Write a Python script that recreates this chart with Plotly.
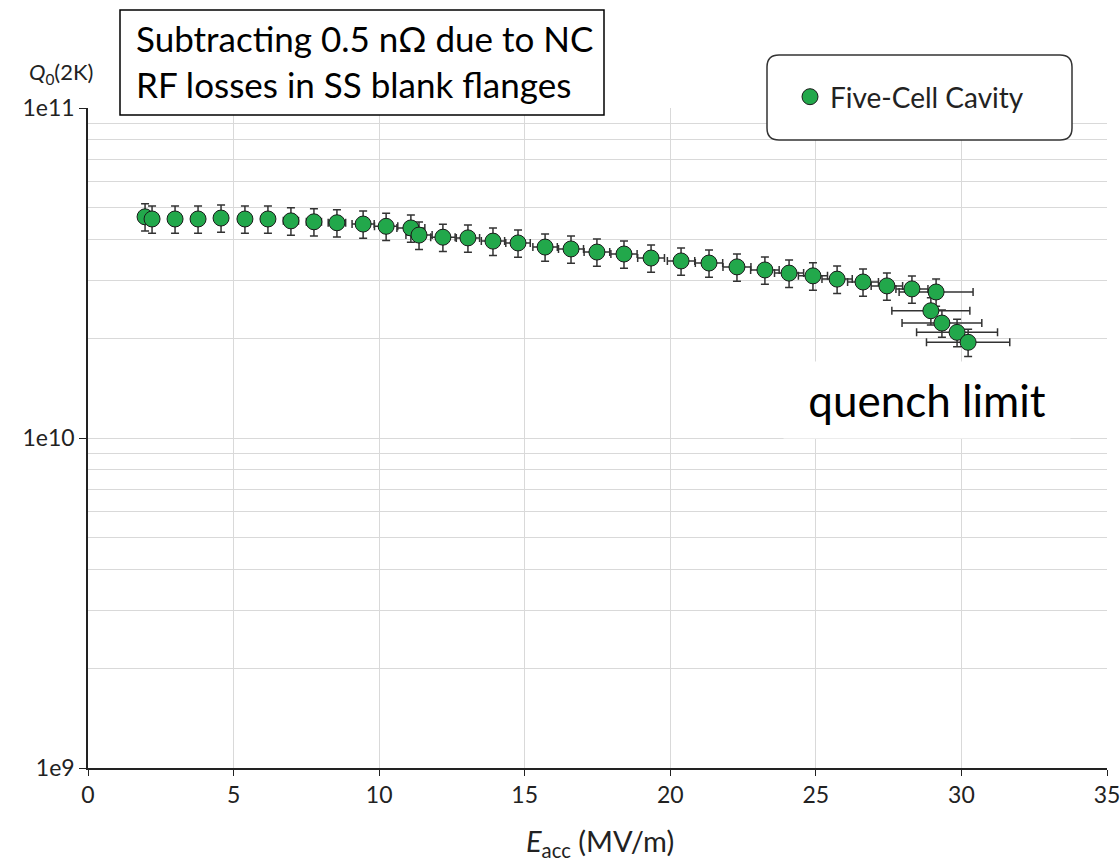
import plotly.graph_objects as go

# ---- data ----
e_acc = [1.96, 2.20, 2.99, 3.78, 4.57, 5.39, 6.18, 6.97, 7.76, 8.55, 9.45, 10.24,
         11.09, 11.37, 12.19, 13.05, 13.91, 14.77, 15.70, 16.59, 17.48, 18.41,
         19.34, 20.37, 21.33, 22.29, 23.25, 24.08, 24.90, 25.73, 26.62, 27.44,
         28.30, 29.13, 28.95, 29.33, 29.85, 30.23]
q0 = [4.68e10, 4.61e10, 4.61e10, 4.61e10, 4.64e10, 4.61e10, 4.61e10, 4.55e10,
      4.52e10, 4.49e10, 4.45e10, 4.38e10, 4.33e10, 4.12e10, 4.06e10, 4.04e10,
      3.95e10, 3.90e10, 3.79e10, 3.74e10, 3.66e10, 3.61e10, 3.51e10, 3.44e10,
      3.39e10, 3.30e10, 3.23e10, 3.16e10, 3.10e10, 3.03e10, 2.97e10, 2.89e10,
      2.83e10, 2.77e10, 2.43e10, 2.23e10, 2.09e10, 1.95e10]
e_err = [0.05, 0.05, 0.06, 0.08, 0.10, 0.12, 0.19, 0.26, 0.26, 0.30, 0.38, 0.40,
         0.48, 0.45, 0.42, 0.40, 0.40, 0.42, 0.42, 0.43, 0.44, 0.45, 0.46, 0.47,
         0.47, 0.48, 0.49, 0.50, 0.50, 0.52, 0.53, 0.54, 0.55, 1.27, 1.34, 1.37,
         1.39, 1.43]
q0_err_percent = 9.5

series_name = "Five-Cell Cavity"
x_ticks = [0, 5, 10, 15, 20, 25, 30, 35]
y_ticks = [1e9, 1e10, 1e11]
y_tick_labels = ["1e9", "1e10", "1e11"]
y_minor = [2e9, 3e9, 4e9, 5e9, 6e9, 7e9, 8e9, 9e9,
           2e10, 3e10, 4e10, 5e10, 6e10, 7e10, 8e10, 9e10]

FONT = "Lato, 'Open Sans', sans-serif"
GRID = "#d9d9d9"

# geometry (pixels) of the plot area
W, H = 1120, 864
L, R, T, B = 88, 13, 108, 96
PW, PH = W - L - R, H - T - B


def px(xp):
    return (xp - L) / PW


def py(yp):
    return (H - B - yp) / PH


fig = go.Figure()
fig.add_trace(go.Scatter(
    x=e_acc, y=q0, mode="markers", name=series_name,
    marker=dict(size=16, color="#22A84B", line=dict(color="#1a1a1a", width=1)),
    error_y=dict(type="percent", value=q0_err_percent, color="#333333",
                 thickness=1.5, width=4),
    error_x=dict(type="data", array=e_err, color="#333333",
                 thickness=1.5, width=4),
))

# rounded legend frame
x0, x1, y0, y1, r = 767, 1072, 55, 140, 12
path = (f"M {px(x0 + r)} {py(y0)} L {px(x1 - r)} {py(y0)} "
        f"Q {px(x1)} {py(y0)} {px(x1)} {py(y0 + r)} L {px(x1)} {py(y1 - r)} "
        f"Q {px(x1)} {py(y1)} {px(x1 - r)} {py(y1)} L {px(x0 + r)} {py(y1)} "
        f"Q {px(x0)} {py(y1)} {px(x0)} {py(y1 - r)} L {px(x0)} {py(y0 + r)} "
        f"Q {px(x0)} {py(y0)} {px(x0 + r)} {py(y0)} Z")

shapes = [
    dict(type="path", xref="paper", yref="paper", path=path,
         fillcolor="white", line=dict(color="#333333", width=1.5), layer="above"),
    dict(type="rect", xref="paper", yref="paper",
         x0=px(120), x1=px(604), y0=py(115), y1=py(10),
         fillcolor="white", line=dict(color="black", width=1.5), layer="above"),
]

annotations = [
    dict(xref="paper", yref="paper", x=px(364), y=py(61),
         text="Subtracting 0.5 nΩ due to NC<br>RF losses in SS blank flanges",
         showarrow=False, align="left", xanchor="center", yanchor="middle",
         font=dict(family=FONT, size=35, color="black")),
    dict(xref="paper", yref="paper", x=px(27), y=py(73),
         text="<i>Q</i><sub>0</sub>(2K)", showarrow=False,
         xanchor="left", yanchor="middle",
         font=dict(family=FONT, size=22, color="#222222")),
    dict(xref="paper", yref="paper", x=px(600), y=py(842),
         text="<i>E</i><sub>acc</sub> (MV/m)", showarrow=False,
         xanchor="center", yanchor="middle",
         font=dict(family=FONT, size=29, color="#222222")),
    dict(xref="paper", yref="paper", x=px(927), y=py(400),
         text="quench limit", showarrow=False, xanchor="center", yanchor="middle",
         bgcolor="white", borderpad=12, width=262,
         font=dict(family=FONT, size=44, color="black")),
]

fig.update_layout(
    width=W, height=H,
    margin=dict(l=L, r=R, t=T, b=B),
    paper_bgcolor="white", plot_bgcolor="white",
    font=dict(family=FONT, color="#222222"),
    showlegend=True,
    legend=dict(x=px(790), y=py(97), xanchor="left", yanchor="middle",
                bgcolor="rgba(0,0,0,0)", font=dict(family=FONT, size=28, color="#222222")),
    shapes=shapes,
    annotations=annotations,
    xaxis=dict(range=[0, 35], tickvals=x_ticks, showgrid=True, gridcolor=GRID,
               gridwidth=1, zeroline=False, showline=True, linecolor="#222222",
               linewidth=1.5, ticks="outside", ticklen=6, tickcolor="#222222",
               automargin=False, ticklabeloverflow="allow",
               tickfont=dict(family=FONT, size=23, color="#222222")),
    yaxis=dict(type="log", range=[9, 11], tickvals=y_ticks, ticktext=y_tick_labels,
               showgrid=True, gridcolor=GRID, gridwidth=1, zeroline=False,
               showline=True, linecolor="#222222", linewidth=1.5,
               ticks="outside", ticklen=7, tickcolor="#222222", automargin=False,
               ticklabeloverflow="allow",
               tickfont=dict(family=FONT, size=23, color="#222222"),
               minor=dict(tickvals=y_minor, showgrid=True, gridcolor=GRID,
                          gridwidth=1, ticks="")),
)

fig.write_html("out.html", config={"displayModeBar": False},
               post_script="document.body.style.margin='0';document.body.style.padding='0';"
                           "document.body.style.overflow='hidden';")
